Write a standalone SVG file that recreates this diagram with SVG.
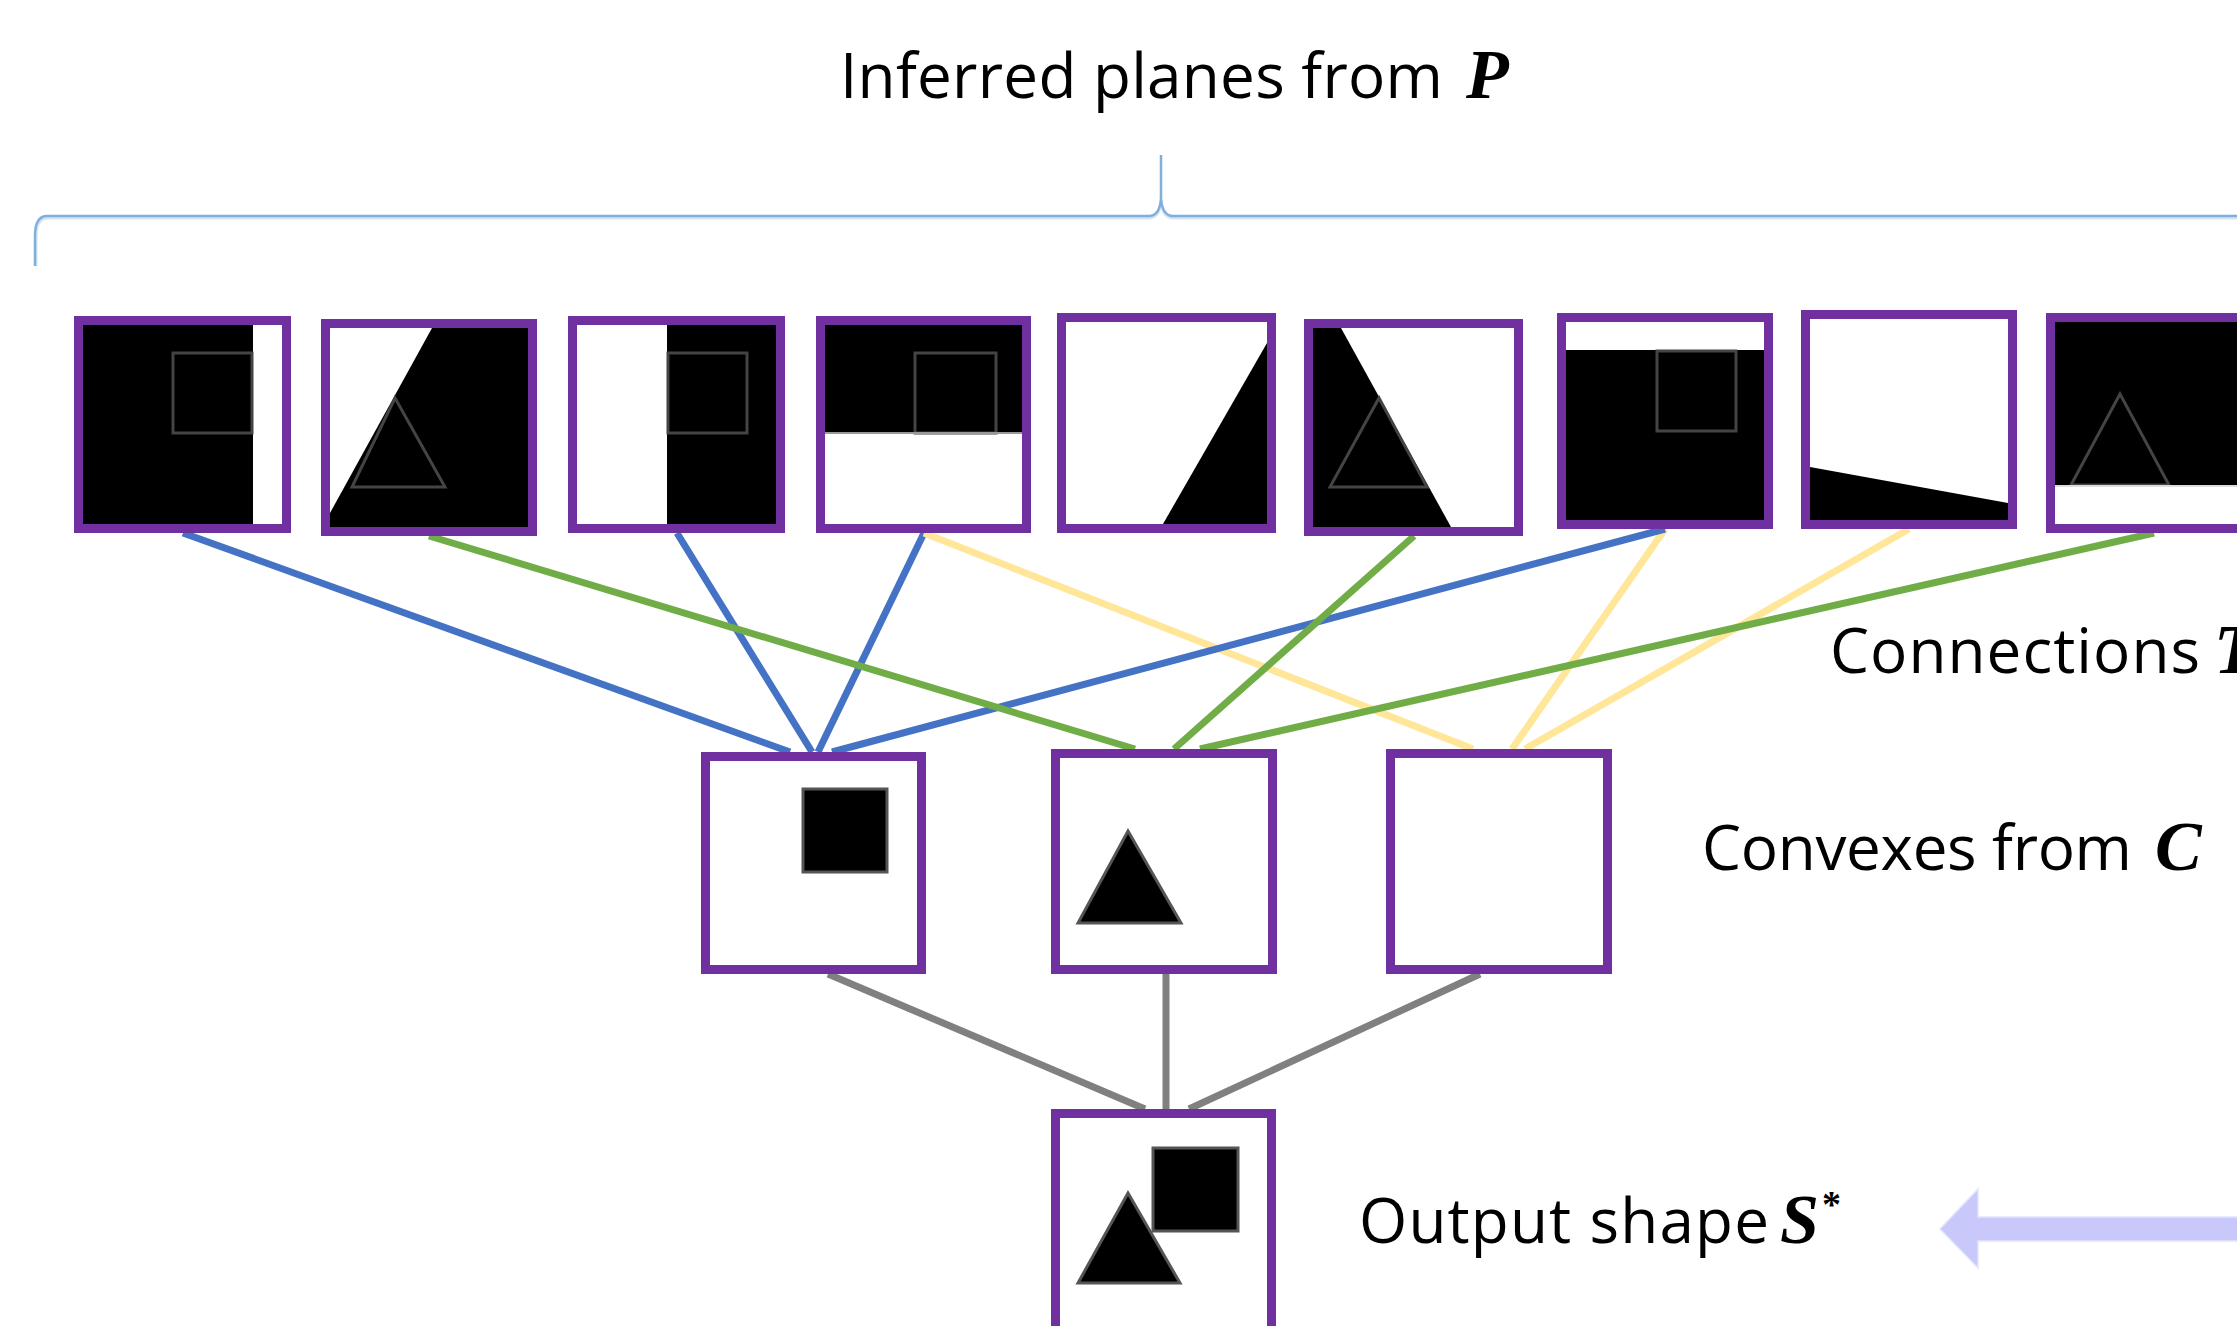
<svg xmlns="http://www.w3.org/2000/svg" width="2237" height="1326" viewBox="0 0 2237 1326">
<style>
.box{fill:#fff;stroke:#7030A0;stroke-width:9}
.blk{fill:#000}
.ol{fill:none;stroke:#444;stroke-width:3}
.sh{fill:#000;stroke:#555;stroke-width:3}
.lbl{font-family:"Open Sans","Liberation Sans",sans-serif;font-size:62px;fill:#000}
.math{font-family:"Liberation Serif",serif;font-style:italic;font-weight:bold;font-size:70px;fill:#000}
.c{fill:none;stroke-width:7}
.blue{stroke:#4472C4}.green{stroke:#70AD47}.yellow{stroke:#FFE699}.gray{stroke:#808080}
</style>
<rect width="2237" height="1326" fill="#fff"/>

<g id="brace">
<path d="M36,266 L36,236 Q36,218 48,218 L1150,218 Q1160,217 1161,200 M1161,200 Q1162,217 1172,218 L2240,218" fill="none" stroke="#D5E4F3" stroke-width="3"/>
<path d="M35,266 L35,236 Q35,216 47,216 L1150,216 Q1160,215 1161,198 L1161,155 M1161,198 Q1162,215 1172,216 L2240,216" fill="none" stroke="#7EB0DE" stroke-width="2.5"/>
</g>

<g id="connectors">
<line class="c blue" x1="183" y1="533" x2="790" y2="752"/>
<line class="c blue" x1="677" y1="533" x2="812" y2="752"/>
<line class="c blue" x1="924" y1="533" x2="818" y2="752"/>
<line class="c yellow" x1="924" y1="533" x2="1473" y2="749"/>
<line class="c yellow" x1="1665" y1="529" x2="1512" y2="749"/>
<line class="c yellow" x1="1909" y1="529" x2="1525" y2="749"/>
<line class="c blue" x1="1665" y1="529" x2="832" y2="752"/>
<line class="c green" x1="429" y1="536" x2="1135" y2="749"/>
<line class="c green" x1="1414" y1="536" x2="1174" y2="749"/>
<line class="c green" x1="2154" y1="533" x2="1200" y2="749"/>
<line class="c gray" x1="828" y1="974" x2="1145" y2="1109"/>
<line class="c gray" x1="1166" y1="974" x2="1166" y2="1109"/>
<line class="c gray" x1="1480" y1="974" x2="1189" y2="1109"/>
</g>

<g id="plane1">
<rect class="box" x="78.5" y="320.5" width="208" height="208"/>
<rect class="blk" x="83" y="325" width="170" height="199"/>
<rect class="ol" x="173" y="353" width="79" height="80"/>
<rect class="box" x="78.5" y="320.5" width="208" height="208" style="fill:none"/>
</g>

<g id="plane2">
<rect class="box" x="325.5" y="323.5" width="207" height="208"/>
<rect class="blk" x="330" y="328" width="198" height="199"/>
<polygon points="330,328 432,328 330,513" fill="#fff"/>
<polygon class="ol" points="395,398 445,487 352,487"/>
<rect class="box" x="325.5" y="323.5" width="207" height="208" style="fill:none"/>
</g>

<g id="plane3">
<rect class="box" x="572.5" y="320.5" width="208" height="208"/>
<rect class="blk" x="667" y="325" width="109" height="199"/>
<rect class="ol" x="668" y="353" width="79" height="80"/>
<rect class="box" x="572.5" y="320.5" width="208" height="208" style="fill:none"/>
</g>

<g id="plane4">
<rect class="box" x="820.5" y="320.5" width="206" height="208"/>
<rect class="blk" x="825" y="325" width="197" height="108"/>
<rect class="ol" x="915" y="353" width="81" height="80"/>
<line x1="825" y1="433" x2="1022" y2="433" stroke="#999" stroke-width="2"/>
<rect class="box" x="820.5" y="320.5" width="206" height="208" style="fill:none"/>
</g>

<g id="plane5">
<rect class="box" x="1061.5" y="317.5" width="210" height="211"/>
<polygon class="blk" points="1267,343 1267,524 1163,524"/>
<rect class="box" x="1061.5" y="317.5" width="210" height="211" style="fill:none"/>
</g>

<g id="plane6">
<rect class="box" x="1308.5" y="323.5" width="210" height="208"/>
<polygon class="blk" points="1313,328 1341,328 1451,527 1313,527"/>
<polygon class="ol" points="1379,398 1427,487 1330,487"/>
<rect class="box" x="1308.5" y="323.5" width="210" height="208" style="fill:none"/>
</g>

<g id="plane7">
<rect class="box" x="1561.5" y="317.5" width="207" height="207"/>
<rect class="blk" x="1566" y="350" width="198" height="170"/>
<rect class="ol" x="1657" y="351" width="79" height="80"/>
<rect class="box" x="1561.5" y="317.5" width="207" height="207" style="fill:none"/>
</g>

<g id="plane8">
<rect class="box" x="1805.5" y="314.5" width="207" height="210"/>
<polygon class="blk" points="1810,467 2008,503 2008,520 1810,520"/>
<rect class="box" x="1805.5" y="314.5" width="207" height="210" style="fill:none"/>
</g>

<g id="plane9">
<rect class="box" x="2050.5" y="317.5" width="208" height="211"/>
<rect class="blk" x="2055" y="322" width="199" height="163"/>
<polygon class="ol" points="2120,394 2169,485 2071,485"/>
<line x1="2055" y1="486" x2="2254" y2="486" stroke="#ddd" stroke-width="2"/>
<rect class="box" x="2050.5" y="317.5" width="208" height="211" style="fill:none"/>
</g>

<g id="convexA">
<rect class="box" x="705.5" y="756.5" width="216" height="213"/>
<rect class="sh" x="803" y="789" width="84" height="83"/>
</g>

<g id="convexB">
<rect class="box" x="1055.5" y="753.5" width="217" height="216"/>
<polygon class="sh" points="1128,831 1181,923 1078,923"/>
</g>

<g id="convexC">
<rect class="box" x="1390.5" y="753.5" width="217" height="216"/>
</g>

<g id="output">
<rect class="box" x="1055.5" y="1113.5" width="216" height="230"/>
<rect class="sh" x="1153" y="1148" width="85" height="83"/>
<polygon class="sh" points="1128,1193 1180,1283 1078,1283"/>
</g>

<g id="arrow">
<polygon points="1940,1229 1978,1189 1978,1217 2240,1217 2240,1241 1978,1241 1978,1268" fill="#C8C8FA" stroke="#E4E4FD" stroke-width="1.5"/>
</g>

<g id="labels">
<text class="lbl" x="840" y="98" textLength="603">Inferred planes from</text>
<text class="math" x="1466" y="98">P</text>
<text class="lbl" x="1830" y="673" textLength="370">Connections</text>
<text class="math" x="2214" y="673">T</text>
<text class="lbl" x="1702" y="870" textLength="430">Convexes from</text>
<text class="math" x="2155" y="870">C</text>
<text class="lbl" x="1359" y="1243" textLength="410">Output shape</text>
<text class="math" x="1780" y="1243">S</text>
<text class="math" x="1822" y="1217" style="font-size:38px;font-style:normal">*</text>
</g>
</svg>
